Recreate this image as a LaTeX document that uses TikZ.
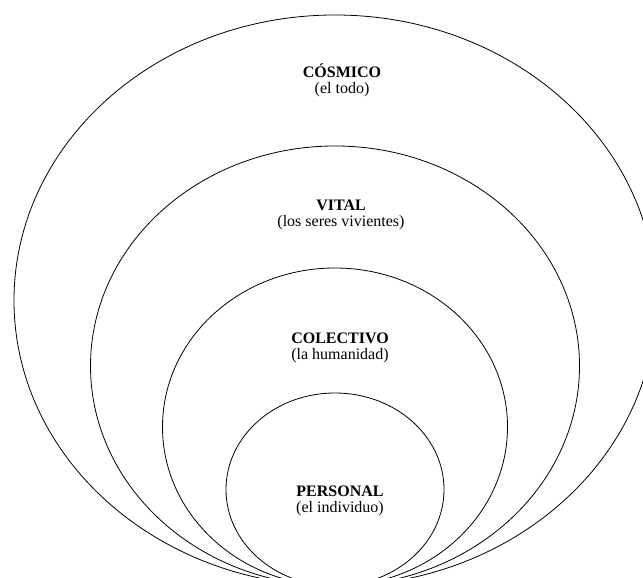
\documentclass[tikz,border=0pt]{standalone}
\usepackage{fontspec}
\setmainfont{Liberation Serif}
\usepackage{tikz}
\usetikzlibrary{positioning}

\tikzset{
    ring/.style={draw=black,line width=0.8pt},
    label/.style={align=center,inner sep=0pt,font=\fontsize{16}{16}\selectfont}
}

\begin{document}
\begin{tikzpicture}[x=1pt,y=1pt]
            % fix the frame and cut the rings at the right and bottom edges
            \useasboundingbox (0,0) rectangle (643,578);
            \clip (0,0) rectangle (643,578);
            % draw the four rings, all touching just below the bottom edge
            \foreach \rx/\ry in {321/285.5, 244.5/220, 172.5/159, 109/96.5}
            {
                \draw[ring] (335,{\ry-8}) ellipse ({\rx} and {\ry});
            }
            % names of the rings
            \node[label] (cosmico) at (342,498) {\textbf{CÓSMICO}\\(el todo)};
            \node[label] (vital) at (341,363) {\textbf{VITAL}\\(los seres vivientes)};
            \node[label] (colectivo) at (340,230) {\textbf{COLECTIVO}\\(la humanidad)};
            \node[label] (personal) at (340,77) {\textbf{PERSONAL}\\(el individuo)};
        \end{tikzpicture}
\end{document}
